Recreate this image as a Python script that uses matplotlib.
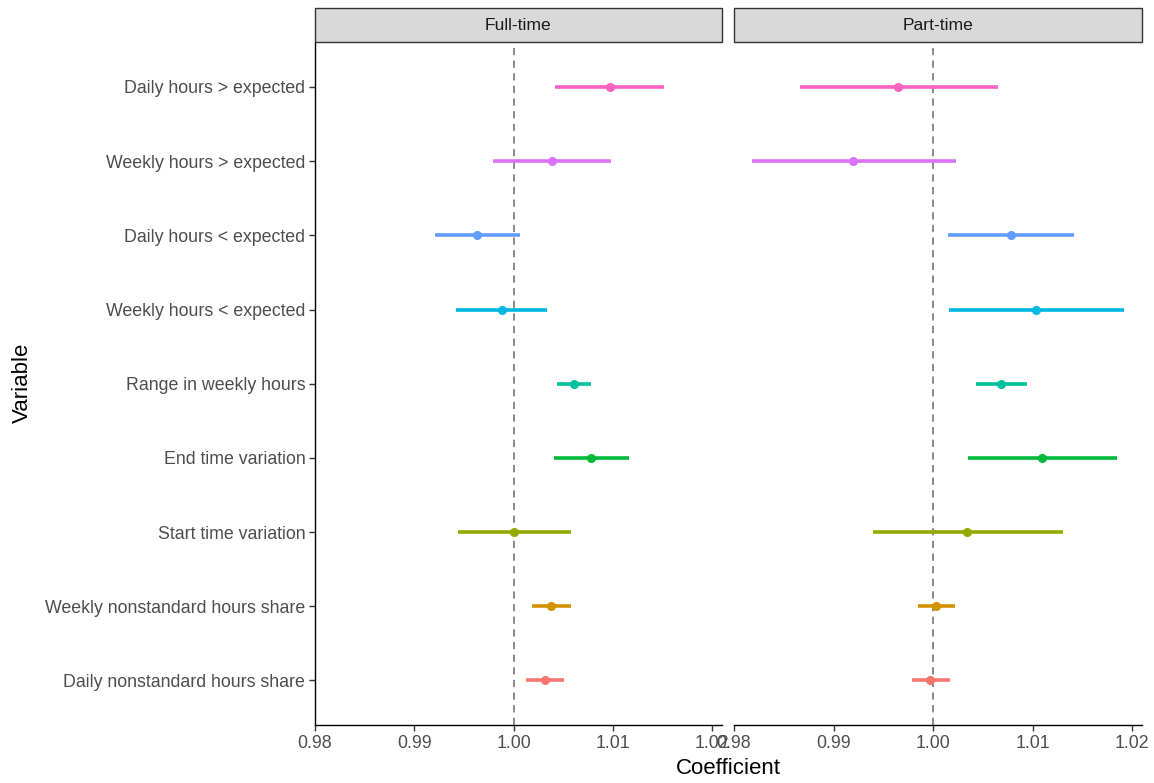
import matplotlib
matplotlib.use("Agg")
import matplotlib.pyplot as plt
from matplotlib.patches import Rectangle

plt.rcParams['font.family'] = ['Liberation Sans', 'DejaVu Sans']

variables = ["Daily nonstandard hours share", "Weekly nonstandard hours share",
             "Start time variation", "End time variation", "Range in weekly hours",
             "Weekly hours < expected", "Daily hours < expected",
             "Weekly hours > expected", "Daily hours > expected"]
colors = ["#F8766D", "#D39200", "#93AA00", "#00BA38", "#00C19F",
          "#00B9E3", "#619CFF", "#DB72FB", "#FF61C3"]

panels = ["Full-time", "Part-time"]

ft_est = [1.00312, 1.0038, 1.0000, 1.00779, 1.0061, 0.99881, 0.99635, 1.00392, 1.0097]
ft_lo  = [1.00125, 1.00185, 0.9944, 1.00406, 1.0044, 0.99422, 0.99211, 0.99796, 1.0042]
ft_hi  = [1.00507, 1.0058, 1.0058, 1.01161, 1.00785, 1.00339, 1.00067, 1.00986, 1.01516]

pt_est = [0.99973, 1.0003, 1.00346, 1.011, 1.00682, 1.01035, 1.00783, 0.99199, 0.99653]
pt_lo  = [0.99788, 0.99845, 0.99398, 1.00353, 1.00427, 1.00164, 1.00151, 0.9818, 0.98661]
pt_hi  = [1.00168, 1.00222, 1.01308, 1.01853, 1.00945, 1.0192, 1.01416, 1.00235, 1.00652]

xticks = [0.98, 0.99, 1.00, 1.01, 1.02]
xticklabels = ["0.98", "0.99", "1.00", "1.01", "1.02"]

W, H = 1154, 783
fig = plt.figure(figsize=(W / 100, H / 100), dpi=100)

bottom = 1 - 725 / H
top = 1 - 42.4 / H
pan_x = [(315, 722), (734, 1142)]
data = [(ft_est, ft_lo, ft_hi), (pt_est, pt_lo, pt_hi)]

tick_col = "#4D4D4D"
for i, ((x0, x1), (est, lo, hi)) in enumerate(zip(pan_x, data)):
    ax = fig.add_axes([x0 / W, bottom, (x1 - x0) / W, top - bottom])
    ax.axvline(1.0, color="#808080", linestyle=(0, (4, 3)), linewidth=1.3, zorder=1)
    for j in range(len(variables)):
        ax.plot([lo[j], hi[j]], [j + 1, j + 1], color=colors[j], linewidth=2.6,
                solid_capstyle="butt", zorder=2)
        ax.plot(est[j], j + 1, 'o', color=colors[j], markersize=5.5, zorder=3)
    ax.set_xlim(0.98, 1.021)
    ax.set_ylim(0.4, len(variables) + 0.6)
    ax.set_xticks(xticks)
    ax.set_xticklabels(xticklabels, color=tick_col, fontsize=12.8)
    ax.set_yticks(range(1, len(variables) + 1))
    for s in ["top", "right"]:
        ax.spines[s].set_visible(False)
    ax.spines["bottom"].set_linewidth(1.0)
    ax.spines["left"].set_linewidth(1.0)
    ax.tick_params(axis="both", length=4, width=1.0, color="#333333", pad=3)
    if i == 0:
        ax.set_yticklabels(variables, color=tick_col, fontsize=12.8)
    else:
        ax.spines["left"].set_visible(False)
        ax.set_yticks([])
    # strip
    sax = fig.add_axes([x0 / W, 1 - 42.3 / H, (x1 - x0) / W, 34 / H])
    sax.set_xlim(0, 1); sax.set_ylim(0, 1)
    sax.axis("off")
    sax.add_patch(Rectangle((0, 0), 1, 1, facecolor="#D9D9D9", edgecolor="#333333",
                            linewidth=1.0, transform=sax.transAxes, clip_on=False))
    sax.text(0.5, 0.5, panels[i], ha="center", va="center", fontsize=12.6, color="#1A1A1A")

fig.text((315 + 1142) / 2 / W, 1 - 768 / H, "Coefficient", ha="center", va="center",
         fontsize=16, color="black")
fig.text(22 / W, 1 - 383 / H, "Variable", ha="center", va="center", rotation=90,
         fontsize=16, color="black")

fig.savefig("out.png", dpi=100)
